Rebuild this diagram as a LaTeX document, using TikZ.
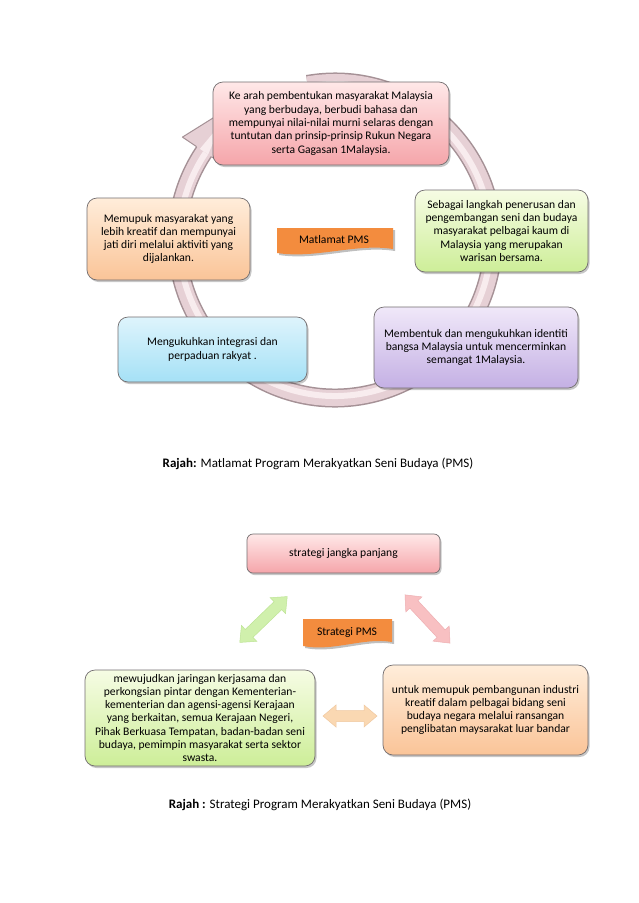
\documentclass[tikz,border=0pt]{standalone}
\usepackage{fontspec}
\setmainfont{Carlito}
\usetikzlibrary{shadows,calc}
\definecolor{pinkT}{RGB}{255,232,232}
\definecolor{pinkB}{RGB}{245,165,170}
\definecolor{greenT}{RGB}{246,252,228}
\definecolor{greenB}{RGB}{205,238,152}
\definecolor{purpT}{RGB}{240,232,249}
\definecolor{purpB}{RGB}{196,176,228}
\definecolor{blueT}{RGB}{222,244,252}
\definecolor{blueB}{RGB}{165,225,246}
\definecolor{oranT}{RGB}{255,237,218}
\definecolor{oranB}{RGB}{250,196,152}
\definecolor{banner}{RGB}{243,140,62}
\definecolor{boxedge}{RGB}{115,110,112}
\definecolor{ringedge}{RGB}{165,145,150}
\definecolor{ringmid}{RGB}{230,208,213}
\definecolor{ringlight}{RGB}{248,236,238}
\definecolor{arrG}{RGB}{208,240,172}
\definecolor{arrGe}{RGB}{190,228,150}
\definecolor{arrP}{RGB}{248,192,194}
\definecolor{arrPe}{RGB}{238,175,178}
\definecolor{arrO}{RGB}{250,216,178}
\definecolor{arrOe}{RGB}{240,200,160}
\newcommand\boxfont{\fontsize{11.6}{13.3}\selectfont}
\newcommand\capfont{\fontsize{13}{15}\selectfont}
\newcommand\mydblarrow[7]{%
  \begin{scope}[shift={(#1,#2)}, rotate=#3]
    \filldraw[fill=#5, draw=#6, line width=0.5pt]
      (-#4,0) -- (-#4+#7,11) -- (-#4+#7,5.5) -- (#4-#7,5.5) -- (#4-#7,11) -- (#4,0)
      -- (#4-#7,-11) -- (#4-#7,-5.5) -- (-#4+#7,-5.5) -- (-#4+#7,-11) -- cycle;
  \end{scope}}
\tikzset{
  box/.style={draw=boxedge, line width=0.7pt, rounded corners=10pt, align=center,
    font=\boxfont, inner sep=2pt,
    drop shadow={shadow xshift=1.5pt, shadow yshift=-2pt, opacity=0.22, fill=black}},
  bannershape/.style={fill=banner,
    drop shadow={shadow xshift=2pt, shadow yshift=-2pt, opacity=0.25, fill=black}},
  bannertext/.style={font=\boxfont, inner sep=0pt},
  caption/.style={font=\capfont, inner sep=0pt}
}
\begin{document}
\begin{tikzpicture}[x=1pt,y=1pt]
\useasboundingbox (0,0) rectangle (638,-903);
\fill[white] (0,0) rectangle (638,-903);

% ---------- circular arrow ----------
\coordinate (c) at (335,-240);
\draw[line width=19pt, ringedge] ($(c)+(100:158pt)$) arc[start angle=100, end angle=-214.5, radius=158pt];
\draw[line width=16pt, ringmid] ($(c)+(100:158pt)$) arc[start angle=100, end angle=-214.5, radius=158pt];
\draw[line width=6pt, ringlight] ($(c)+(100:156pt)$) arc[start angle=100, end angle=-214.5, radius=156pt];
\coordinate (hsi) at ($(c)+(146:149pt)$);
\coordinate (hbi) at ($(c)+(146:136pt)$);
\coordinate (htip) at ($(c)+(130.5:170pt)$);
\coordinate (hbo) at ($(c)+(146:184pt)$);
\coordinate (hso) at ($(c)+(146:167pt)$);
\fill[ringmid] (hsi) -- (hbi) -- (htip) -- (hbo) -- (hso) -- cycle;
\fill[ringlight] ($(c)+(146:153pt)$) -- ($(c)+(134:163pt)$) -- ($(c)+(146:163pt)$) -- cycle;
\draw[ringedge, line width=1pt, line join=round] (hsi) -- (hbi) -- (htip) -- (hbo) -- (hso);

% ---------- boxes diagram 1 ----------
\node[box, top color=pinkT, bottom color=pinkB, minimum width=236pt, minimum height=83pt] (g1) at (331,-123.5)
  {Ke arah pembentukan masyarakat Malaysia\\yang berbudaya, berbudi bahasa dan\\mempunyai nilai-nilai murni selaras dengan\\tuntutan dan prinsip-prinsip Rukun Negara\\serta Gagasan 1Malaysia.};
\node[box, top color=greenT, bottom color=greenB, minimum width=173pt, minimum height=82pt] (g2) at (501.5,-231)
  {Sebagai langkah penerusan dan\\pengembangan seni dan budaya\\masyarakat pelbagai kaum di\\Malaysia yang merupakan\\warisan bersama.};
\node[box, top color=purpT, bottom color=purpB, minimum width=204pt, minimum height=81pt] (g3) at (476,-347.5)
  {Membentuk dan mengukuhkan identiti\\bangsa Malaysia untuk mencerminkan\\semangat 1Malaysia.};
\node[box, top color=blueT, bottom color=blueB, minimum width=189pt, minimum height=65pt] (g4) at (212.5,-349.5)
  {Mengukuhkan integrasi dan\\perpaduan rakyat .};
\node[box, top color=oranT, bottom color=oranB, minimum width=163pt, minimum height=82pt] (g5) at (168.5,-239)
  {Memupuk masyarakat yang\\lebih kreatif dan mempunyai\\jati diri melalui aktiviti yang\\dijalankan.};

% banner 1
\path[bannershape] (277,-228) -- (393,-228) -- (393,-249)
  .. controls (356,-243) and (316,-259) .. (277,-253) -- cycle;
\node[bannertext] (b1) at (334,-240) {Matlamat PMS};

\node[caption] (cap1) at (318,-464) {\textbf{Rajah:} Matlamat Program Merakyatkan Seni Budaya (PMS)};

% ---------- diagram 2 ----------
\node[box, top color=pinkT, bottom color=pinkB, minimum width=193pt, minimum height=39pt, rounded corners=6pt] (s1) at (343.5,-553.5)
  {strategi jangka panjang};
\node[box, top color=greenT, bottom color=greenB, minimum width=230pt, minimum height=96pt] (s2) at (200,-718)
  {mewujudkan jaringan kerjasama dan\\perkongsian pintar dengan Kementerian-\\kementerian dan agensi-agensi Kerajaan\\yang berkaitan, semua Kerajaan Negeri,\\Pihak Berkuasa Tempatan, badan-badan seni\\budaya, pemimpin masyarakat serta sektor\\swasta.};
\node[box, top color=oranT, bottom color=oranB, minimum width=205pt, minimum height=90pt] (s3) at (485.5,-710)
  {untuk memupuk pembangunan industri\\kreatif dalam pelbagai bidang seni\\budaya negara melalui ransangan\\penglibatan maysarakat luar bandar};

\path[bannershape] (303,-619) -- (392,-619) -- (392,-642)
  .. controls (364,-637) and (333,-652) .. (303,-646) -- cycle;
\node[bannertext] (b2) at (347,-632) {Strategi PMS};

\mydblarrow{263.5}{-619.5}{44}{33}{arrG}{arrGe}{13}
\mydblarrow{427.5}{-619}{-47}{33}{arrP}{arrPe}{13}
\mydblarrow{350}{-716}{0}{27}{arrO}{arrOe}{13}

\node[caption] (cap2) at (320,-805) {\textbf{Rajah :} Strategi Program Merakyatkan Seni Budaya (PMS)};
\end{tikzpicture}
\end{document}
